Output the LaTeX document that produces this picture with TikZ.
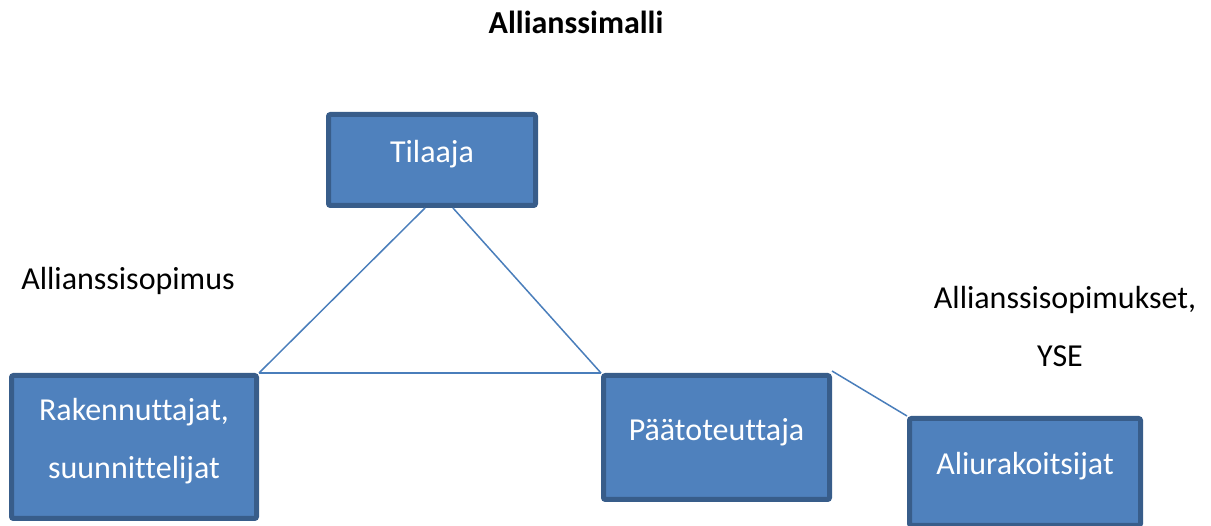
\documentclass[tikz,border=0pt]{standalone}
\usepackage{fontspec}
\setmainfont{Carlito}[Ligatures=NoCommon]
\definecolor{boxfill}{HTML}{4F81BD}
\definecolor{boxline}{HTML}{385D8A}
\definecolor{conn}{HTML}{4A7EBB}
\begin{document}
\begin{tikzpicture}[x=1pt,y=-1pt,
  box/.style={draw=boxline,fill=boxfill,line width=5pt,rounded corners=2pt,
    text=white,font=\fontsize{32}{58}\selectfont,align=center,inner sep=0pt,
    text depth=17pt},
  lbl/.style={font=\fontsize{32}{38}\selectfont,inner sep=0pt},
  conline/.style={draw=conn,line width=1.5pt}]
\useasboundingbox (0,0) rectangle (1211,526);
\node[box,minimum width=207pt,minimum height=91pt] (t) at (432,160) {Tilaaja};
\node[box,minimum width=245pt,minimum height=143pt] (r) at (134,447) {Rakennuttajat,\\suunnittelijat};
\node[box,minimum width=226pt,minimum height=124pt] (p) at (716.5,437.5) {Päätoteuttaja};
\node[box,minimum width=231pt,minimum height=107pt] (a) at (1025,472) {Aliurakoitsijat};
\node[lbl,font=\fontsize{32}{38}\selectfont\bfseries] (title) at (576,22) {Allianssimalli};
\node[lbl] (l1) at (128,281) {Allianssisopimus};
\node[lbl] (l2) at (1065,300) {Allianssisopimukset,};
\node[lbl] (l3) at (1060,356) {YSE};
\draw[conline] ([xshift=-7pt]t.south) -- (r.north east);
\draw[conline] ([xshift=21pt]t.south) -- (p.north west);
\draw[conline] (r.north east) -- (p.north west);
\draw[conline] ([yshift=2pt]p.north east) -- (a.north west);
\end{tikzpicture}
\end{document}
